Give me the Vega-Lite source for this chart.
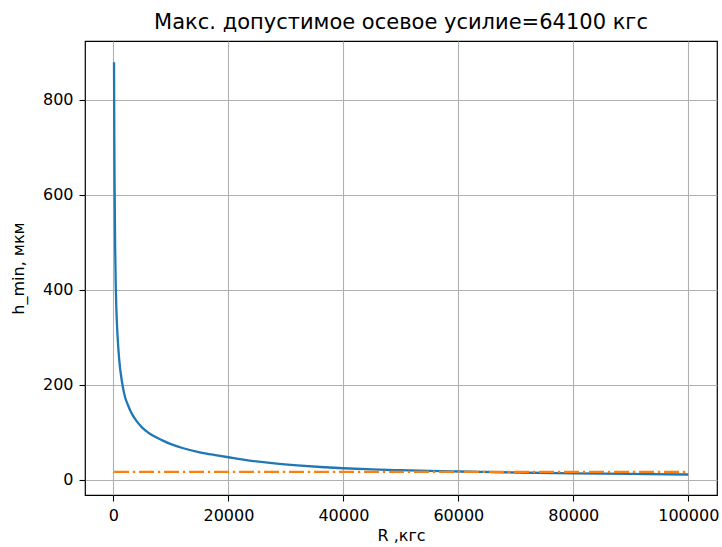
{
  "$schema": "https://vega.github.io/schema/vega-lite/v6.json",
  "width": 632,
  "height": 454,
  "autosize": {"type": "none"},
  "padding": {"left": 85, "top": 41, "right": 5, "bottom": 52},
  "background": "white",
  "title": {
    "text": "Макс. допустимое осевое усилие=64100 кгс",
    "font": "DejaVu Sans",
    "fontSize": 21,
    "fontWeight": "normal",
    "color": "black",
    "offset": 8
  },
  "config": {
    "view": {"stroke": "black", "strokeWidth": 1.2},
    "axis": {
      "domain": false,
      "grid": true,
      "gridColor": "#b0b0b0",
      "gridWidth": 1.1,
      "tickColor": "black",
      "tickSize": 6,
      "tickWidth": 1.1,
      "labelFont": "DejaVu Sans",
      "labelFontSize": 16,
      "labelColor": "black",
      "titleFont": "DejaVu Sans",
      "titleFontSize": 16,
      "titleFontWeight": "normal",
      "titleColor": "black"
    }
  },
  "datasets": {
    "curve": [
      {"R": 100, "h": 879},
      {"R": 150, "h": 720},
      {"R": 200, "h": 620},
      {"R": 300, "h": 485},
      {"R": 400, "h": 410},
      {"R": 500, "h": 362},
      {"R": 700, "h": 306},
      {"R": 1000, "h": 253},
      {"R": 1500, "h": 205},
      {"R": 2000, "h": 175},
      {"R": 2500, "h": 158},
      {"R": 3000, "h": 144},
      {"R": 3500, "h": 133},
      {"R": 4000, "h": 124},
      {"R": 5000, "h": 110},
      {"R": 6000, "h": 100},
      {"R": 7000, "h": 92},
      {"R": 8500, "h": 83},
      {"R": 10000, "h": 75},
      {"R": 12000, "h": 67},
      {"R": 15000, "h": 58},
      {"R": 18000, "h": 51.5},
      {"R": 20000, "h": 47.5},
      {"R": 24000, "h": 40},
      {"R": 28000, "h": 34.5},
      {"R": 32000, "h": 30.3},
      {"R": 36000, "h": 27},
      {"R": 40000, "h": 24.3},
      {"R": 45000, "h": 21.9},
      {"R": 50000, "h": 20.2},
      {"R": 55000, "h": 18.7},
      {"R": 60000, "h": 17.5},
      {"R": 64100, "h": 16.6},
      {"R": 70000, "h": 15.4},
      {"R": 80000, "h": 13.7},
      {"R": 90000, "h": 12.3},
      {"R": 100000, "h": 11.2}
    ],
    "limit": [
      {"R": 100, "h": 16.6},
      {"R": 100000, "h": 16.6}
    ]
  },
  "layer": [
    {
      "data": {"name": "curve"},
      "mark": {"type": "line", "color": "#1f77b4", "strokeWidth": 2.3, "interpolate": "monotone", "clip": true},
      "encoding": {
        "x": {"field": "R", "type": "quantitative", "title": "R ,кгс",
              "scale": {"domain": [-4950, 105000], "nice": false, "zero": false},
              "axis": {"values": [0, 20000, 40000, 60000, 80000, 100000], "format": "d", "labelPadding": 6, "titlePadding": 4}},
        "y": {"field": "h", "type": "quantitative", "title": "h_min, мкм",
              "scale": {"domain": [-32, 924], "nice": false, "zero": false},
              "axis": {"values": [0, 200, 400, 600, 800], "format": "d", "labelPadding": 6, "titlePadding": 16}}
      }
    },
    {
      "data": {"name": "limit"},
      "mark": {"type": "line", "color": "#ff7f0e", "strokeWidth": 2.3, "strokeDash": [15, 3.8, 2.4, 3.8]},
      "encoding": {
        "x": {"field": "R", "type": "quantitative"},
        "y": {"field": "h", "type": "quantitative"}
      }
    }
  ]
}
